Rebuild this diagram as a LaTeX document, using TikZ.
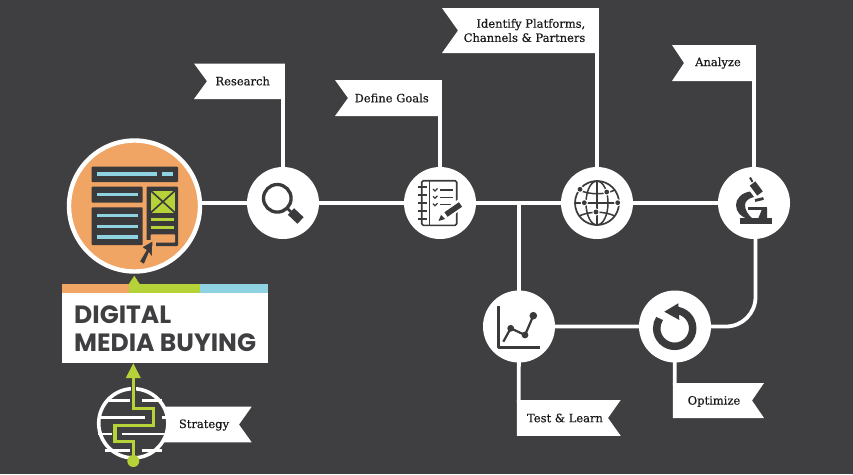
\documentclass[tikz,border=0pt]{standalone}
\usepackage{fontspec}
\setmainfont{DejaVu Serif}
\newfontfamily\flagfont[FakeBold=0.35]{DejaVu Serif}
\newfontfamily\titlefont{Poppins}
\definecolor{bgdark}{HTML}{3F3E40}
\definecolor{icondark}{HTML}{3A393B}
\definecolor{orangeC}{HTML}{F0A564}
\definecolor{greenC}{HTML}{B6D239}
\definecolor{blueC}{HTML}{8FD3E3}
\tikzset{
  conn/.style={draw=white,line width=3.8pt},
  hub/.style={circle,fill=white,minimum size=72pt,inner sep=0pt,outer sep=0pt},
  flag/.style={fill=white},
  flagtext/.style={font=\flagfont\fontsize{11.5}{14.2}\selectfont,text=black!90,inner sep=0pt,align=center},
  icon/.style={draw=icondark,line width=2.4pt,line join=round},
  bluel/.style={draw=blueC,line width=3.2pt},
  greenl/.style={draw=greenC,line width=3pt},
  maze/.style={draw=white,line width=2.8pt},
}
\begin{document}
\begin{tikzpicture}[x=1pt,y=-1pt]
\useasboundingbox[fill=bgdark] (0,0) rectangle (853,474);

% nodes
\node[circle,fill=orangeC,draw=white,line width=4.4pt,minimum size=131pt,inner sep=0pt,outer sep=0pt] (main) at (134.5,206) {};
\coordinate (branch) at (519,203);
\coordinate (bendA) at (755.5,297);
\coordinate (bendB) at (726,326.5);
\coordinate (pR) at (283,97);
\coordinate (pD) at (440,114);
\coordinate (pI) at (597,51);
\coordinate (pA) at (754,79);
\coordinate (pT) at (518.7,402);
\coordinate (pO) at (674.7,385);
\coordinate (mainE) at (200,203);

% connectors (hubs are drawn on top of them)
\path (283,203) coordinate (cS) (440,203) coordinate (cN) (597,203) coordinate (cG) (754,203) coordinate (cM) (519,326.5) coordinate (cC) (675,326.5) coordinate (cY);
\draw[conn] (mainE) -- (cS) -- (cN) -- (cG) -- (cM);
\draw[conn] (branch) -- (cC) -- (cY) -- (bendB) arc[start angle=90,end angle=0,radius=29.5] -- (bendA |- cM);
\draw[conn] (pR) -- (cS);
\draw[conn] (pD) -- (cN);
\draw[conn] (pI) -- (cG);
\draw[conn] (pA) -- (cM);
\draw[conn] (pT) -- (cC);
\draw[conn] (pO) -- (cY);
\node[hub] (search) at (cS) {};
\node[hub] (notes) at (cN) {};
\node[hub] (globe) at (cG) {};
\node[hub] (micro) at (cM) {};
\node[hub] (chart) at (cC) {};
\node[hub] (cycle) at (cY) {};

% flags
\fill[flag] (194,63.5) -- (284.8,63.5) -- (284.8,99) -- (194,99) -- (207,81.2) -- cycle;
\fill[flag] (335,80) -- (441.8,80) -- (441.8,116) -- (335,116) -- (348,98) -- cycle;
\fill[flag] (442,8) -- (598.8,8) -- (598.8,53) -- (442,53) -- (458,30.5) -- cycle;
\fill[flag] (672,45) -- (755.9,45) -- (755.9,81) -- (672,81) -- (684,63) -- cycle;
\fill[flag] (516.8,400) -- (620.7,400) -- (608,418) -- (620.7,435.8) -- (516.8,435.8) -- cycle;
\fill[flag] (672.8,383) -- (764,383) -- (752,400.5) -- (764,418) -- (672.8,418) -- cycle;
\fill[flag] (160,406.7) -- (251.7,406.7) -- (239,424.5) -- (251.7,442.3) -- (160,442.3) -- cycle;

\node[flagtext] (tResearch) at (242.7,81) {Research};
\node[flagtext] (tGoals) at (391.7,98) {Define Goals};
\node[flagtext,align=right,anchor=east] (tPlat) at (585.5,30.5) {Identify Platforms,\\Channels \& Partners};
\node[flagtext] (tAnalyze) at (718,63) {Analyze};
\node[flagtext] (tTest) at (565,418) {Test \& Learn};
\node[flagtext] (tOpt) at (714,401.5) {Optimize};
\node[flagtext] (tStrat) at (204,425) {Strategy};

% main icon
\fill[icondark,rounded corners=0.8pt] (91.7,166.7) rectangle (178,182);
\draw[bluel] (96.7,174) -- (156.7,174);
\draw[bluel] (161.7,174) -- (173,174);
\fill[icondark,rounded corners=0.8pt] (91.7,186.7) rectangle (142.7,202.7);
\draw[bluel] (96.7,194.7) -- (138.3,194.7);
\fill[icondark,rounded corners=0.8pt] (91.7,207.3) rectangle (142.7,245);
\draw[bluel] (96.7,215.3) -- (138.3,215.3);
\draw[bluel] (96.7,226.3) -- (138.3,226.3);
\draw[bluel] (96.7,237) -- (138.3,237);
\fill[icondark,rounded corners=0.8pt] (146.7,186.7) rectangle (178,246);
\fill[greenC] (150.7,190.7) rectangle (175,212.7);
\draw[icondark,line width=1.6pt] (150.7,190.7) -- (175,212.7) (175,190.7) -- (150.7,212.7);
\draw[greenl] (150.7,219.7) -- (174,219.7);
\draw[greenl] (150.7,227.7) -- (174,227.7);
\fill[orangeC,rounded corners=0.8pt] (150.7,234.3) rectangle (175,242.7);
\fill[orangeC] (146,240) rectangle (155.5,247);
\fill[icondark,draw=orangeC,line width=1pt,line join=miter] (153,240.5) -- (141.5,247.2) -- (146,250.2) -- (139.3,261.6) -- (144.2,264.6) -- (149,253.2) -- (152.2,258) -- cycle;

% title block
\fill[white] (62.3,293) rectangle (268.3,362.7);
\fill[orangeC] (62.3,284) rectangle (129.3,293);
\fill[greenC] (129.3,284) rectangle (200,293);
\fill[blueC] (200,284) rectangle (268.3,293);
\fill[greenC] (134.3,275.7) -- (128.5,284.5) -- (140,284.5) -- cycle;
\node[font=\titlefont\bfseries\fontsize{25}{27.7}\selectfont,text=bgdark,align=left,anchor=west,inner sep=0pt] (title) at (74,328.5) {DIGITAL\\MEDIA BUYING};

% strategy icon
\draw[draw=white,line width=3.6pt,fill=bgdark] (133.3,423.3) circle[radius=34.6];
\fill[flag] (168,406.7) rectangle (180,442.3);
\draw[maze] (106.7,400.7) -- (130,400.7) (141.7,400.7) -- (161.7,400.7);
\draw[maze] (98,417.3) -- (145,417.3) (161.7,417.3) -- (168,417.3);
\draw[maze] (98,434) -- (111.7,434) (121.7,434) -- (168,434);
\draw[maze] (105,450.7) -- (130,450.7) (141.7,450.7) -- (161.7,450.7);
\draw[bgdark,line width=5.6pt] (133.3,461) -- (133.3,441.7) -- (115,441.7) -- (115,425.7) -- (153.3,425.7) -- (153.3,408.3) -- (133.3,408.3) -- (133.3,376.7);
\draw[greenC,line width=3.2pt] (133.3,461) -- (133.3,441.7) -- (115,441.7) -- (115,425.7) -- (153.3,425.7) -- (153.3,408.3) -- (133.3,408.3) -- (133.3,376.7);
\fill[greenC] (133.3,363.3) -- (125.8,378) -- (140.8,378) -- cycle;
\fill[greenC] (133.3,461) circle[radius=6];

% search icon
\draw[icon,line width=3.3pt] (277.3,198.3) circle[radius=13.8];
\draw[icon,line width=2.6pt] (287,208) -- (291,212);
\draw[icondark,line width=9pt] (291,211.5) -- (300.5,220.5);

% notes icon
\draw[draw=icondark,line width=1.6pt,rounded corners=1.5pt] (421.7,180.7) rectangle (456.7,225.3);
\draw[icondark,line width=1.4pt] (429.3,180.7) -- (429.3,225.3);
\foreach \yy in {186.7,194.7,202.7,211,219} {\draw[icondark,line width=1.8pt] (418,\yy) -- (426.5,\yy);}
\foreach \yy in {190,197.3,204.7} {
  \draw[icondark,line width=1.3pt] (433,\yy-1) -- (435,\yy+1) -- (437.5,\yy-1.5);
  \draw[icondark,line width=1.4pt] (440,\yy) -- (453,\yy);
}
\draw[white,line width=10pt] (445,215) -- (461,203.5);
\draw[icondark,line width=5.5pt] (446,214.5) -- (460.5,204.5);
\fill[icondark] (438.5,221) -- (441,215) -- (445,219) -- cycle;

% globe icon
\draw[icondark,line width=1.7pt] (597,203) circle[radius=22];
\draw[icondark,line width=1.5pt] (597,181) -- (597,225);
\draw[icondark,line width=1.5pt] (597,203) ellipse[x radius=11,y radius=22];
\draw[icondark,line width=1.5pt] (575,203) -- (619,203);
\draw[icondark,line width=1.5pt] (579,190) .. controls (590,195) and (604,195) .. (615,190);
\draw[icondark,line width=1.5pt] (579,216) .. controls (590,211) and (604,211) .. (615,216);
\foreach \gx/\gy in {580/189.3,606.7/192,584.3/202.7,617.7/202.7,596/212} {
  \fill[white] (\gx,\gy) circle[radius=3.6];
  \fill[icondark] (\gx,\gy) circle[radius=2.4];
}

% microscope icon
\fill[icondark] (740,218.3) rectangle (772.3,224);
\draw[icondark,line width=7pt] (752.5,183.5) -- (760,193.5);
\draw[icondark,line width=2pt] (750,177.5) -- (752.5,182);
\draw[icondark,line width=2.8pt] (755,200.5) -- (763.5,198.5);
\fill[icondark] (750,191.5) .. controls (741,193) and (736,199) .. (736,205) .. controls (736,212) and (741,217) .. (748,219) -- (753,219) .. controls (748,215) and (745,210) .. (745,205) .. controls (745,201) and (749,198) .. (754,197) -- cycle;
\draw[icondark,line width=3.2pt] (748,208.8) -- (767,208.8);
\fill[icondark] (762.5,208) -- (767,208) -- (767,219) -- (758,219) -- cycle;

% chart icon
\draw[icondark,line width=3pt,line join=round] (498.8,306) -- (498.8,347.3) -- (539.5,347.3);
\draw[icondark,line width=2.2pt] (503.3,341.7) -- (510.7,328.3) -- (525,335) -- (533.3,315.7);
\fill[icondark] (510.7,328.3) circle[radius=3.4];
\fill[icondark] (525,335) circle[radius=3.4];
\fill[icondark] (533.3,315.7) circle[radius=3.8];

% cycle icon
\draw[icondark,line width=7.5pt] (674.7,310.3) arc[start angle=-90,end angle=213,radius=18];
\fill[icondark] (664.3,311.7) -- (678.3,303.3) -- (679.3,320) -- cycle;
\end{tikzpicture}
\end{document}
